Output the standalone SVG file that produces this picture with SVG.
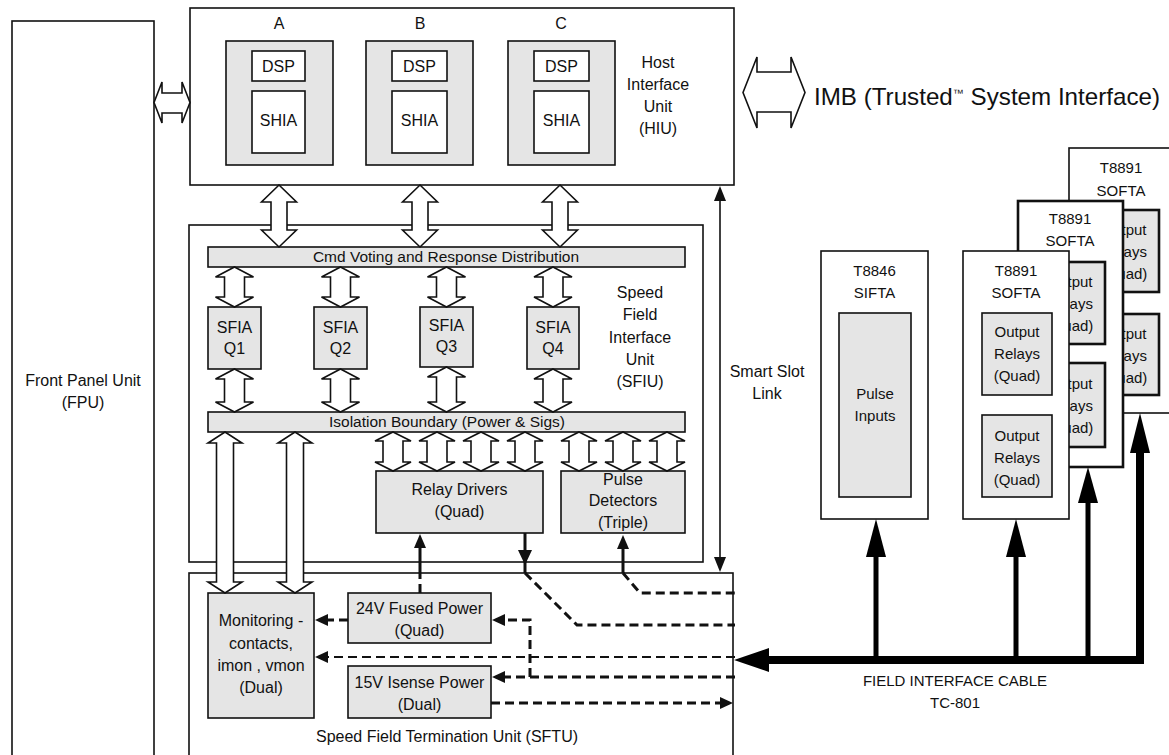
<svg xmlns="http://www.w3.org/2000/svg" width="1169" height="755" viewBox="0 0 1169 755">
<style>
.box{fill:#fff;stroke:#111;stroke-width:1.6}
.gbox{fill:#e5e5e5;stroke:#111;stroke-width:1.6}
.tbox{fill:#e5e5e5;stroke:#111;stroke-width:2.6}
.bbox{fill:#fff;stroke:#111;stroke-width:2.6}
.t{font-family:"Liberation Sans",Arial,sans-serif;font-size:16px;fill:#111;text-anchor:middle;dominant-baseline:central}
.s{font-size:15px}
.arr{fill:#fff;stroke:#111;stroke-width:1.6;stroke-linejoin:miter}
.dash{fill:none;stroke:#111;stroke-width:3;stroke-dasharray:9 5}
.thin{stroke-width:2}
.solid{fill:none;stroke:#111;stroke-width:3}
.cable{fill:none;stroke:#000;stroke-linejoin:miter}
.head{fill:#111;stroke:none}
</style>
<rect width="1169" height="755" fill="#fff"/>

<g id="fpu">
<rect class="box" x="12" y="21" width="142" height="760"/>
<text class="t" x="83" y="380">Front Panel Unit</text>
<text class="t" x="83" y="402">(FPU)</text>
</g>

<g id="hiu">
<rect class="box" x="190" y="8" width="544" height="177"/>
<text class="t" x="279" y="23">A</text>
<text class="t" x="420" y="23">B</text>
<text class="t" x="561" y="23">C</text>
<text class="t" x="658" y="62">Host</text>
<text class="t" x="658" y="84">Interface</text>
<text class="t" x="658" y="106">Unit</text>
<text class="t" x="658" y="128">(HIU)</text>
</g>
<g id="chanA">
<rect class="gbox" x="226" y="41" width="107" height="124"/>
<rect class="box" x="252" y="51" width="53" height="30"/>
<rect class="box" x="252" y="91" width="53" height="62"/>
<text class="t" x="278.5" y="66">DSP</text>
<text class="t" x="278.5" y="120">SHIA</text>
</g>
<g id="chanB">
<rect class="gbox" x="366" y="41" width="107" height="124"/>
<rect class="box" x="392" y="51" width="55" height="30"/>
<rect class="box" x="392" y="91" width="55" height="62"/>
<text class="t" x="419.5" y="66">DSP</text>
<text class="t" x="419.5" y="120">SHIA</text>
</g>
<g id="chanC">
<rect class="gbox" x="508" y="41" width="107" height="124"/>
<rect class="box" x="534" y="51" width="55" height="30"/>
<rect class="box" x="534" y="91" width="55" height="62"/>
<text class="t" x="561.5" y="66">DSP</text>
<text class="t" x="561.5" y="120">SHIA</text>
</g>

<g id="imb">
<text class="t" x="814" y="105" style="font-size:24px;text-anchor:start;dominant-baseline:auto" textLength="346" lengthAdjust="spacingAndGlyphs">IMB (Trusted<tspan style="font-size:11px" dy="-8">™</tspan><tspan dy="8"> System Interface)</tspan></text>
</g>

<g id="sfiu">
<rect class="box" x="189" y="225" width="514" height="337"/>
<text class="t" x="640" y="292">Speed</text>
<text class="t" x="640" y="314">Field</text>
<text class="t" x="640" y="337">Interface</text>
<text class="t" x="640" y="359">Unit</text>
<text class="t" x="640" y="381">(SFIU)</text>
</g>
<g id="cmdbar">
<rect class="gbox" x="208" y="247" width="477" height="20"/>
<text class="t" x="446" y="256" style="font-size:15.5px">Cmd Voting and Response Distribution</text>
</g>
<g id="isobar">
<rect class="gbox" x="208" y="412" width="477" height="20"/>
<text class="t" x="447" y="421" style="font-size:15.5px">Isolation Boundary (Power &amp; Sigs)</text>
</g>
<g id="sfiaQ1">
<rect class="gbox" x="208" y="307" width="53" height="62"/>
<text class="t" x="234.5" y="327">SFIA</text>
<text class="t" x="234.5" y="348">Q1</text>
</g>
<g id="sfiaQ2">
<rect class="gbox" x="314" y="307" width="53" height="62"/>
<text class="t" x="340.5" y="327">SFIA</text>
<text class="t" x="340.5" y="348">Q2</text>
</g>
<g id="sfiaQ3">
<rect class="gbox" x="420" y="307" width="53" height="60"/>
<text class="t" x="446.5" y="325">SFIA</text>
<text class="t" x="446.5" y="346">Q3</text>
</g>
<g id="sfiaQ4">
<rect class="gbox" x="527" y="307" width="52" height="62"/>
<text class="t" x="553" y="327">SFIA</text>
<text class="t" x="553" y="348">Q4</text>
</g>
<g id="relay">
<rect class="gbox" x="376" y="471" width="167" height="62"/>
<text class="t" x="459.5" y="489">Relay Drivers</text>
<text class="t" x="459.5" y="511">(Quad)</text>
</g>
<g id="pulse">
<rect class="gbox" x="561" y="471" width="124" height="62"/>
<text class="t" x="623" y="479">Pulse</text>
<text class="t" x="623" y="500">Detectors</text>
<text class="t" x="623" y="522">(Triple)</text>
</g>

<g id="smartslot">
<text class="t" x="767" y="371">Smart Slot</text>
<text class="t" x="767" y="393">Link</text>
</g>

<g id="sftu">
<rect class="box" x="189" y="573" width="544" height="200"/>
<text class="t" x="447" y="736">Speed Field Termination Unit (SFTU)</text>
</g>
<g id="monitor">
<rect class="gbox" x="208" y="593" width="106" height="125"/>
<text class="t" x="261" y="620">Monitoring -</text>
<text class="t" x="261" y="643">contacts,</text>
<text class="t" x="261" y="665">imon , vmon</text>
<text class="t" x="261" y="687">(Dual)</text>
</g>
<g id="p24">
<rect class="gbox" x="348" y="593" width="143" height="50"/>
<text class="t" x="419.5" y="608">24V Fused Power</text>
<text class="t" x="419.5" y="630">(Quad)</text>
</g>
<g id="p15">
<rect class="gbox" x="348" y="666" width="143" height="52"/>
<text class="t" x="419.5" y="682">15V Isense Power</text>
<text class="t" x="419.5" y="704">(Dual)</text>
</g>

<g id="softa3">
<rect class="box" x="1069" y="148" width="106" height="265"/>
<text class="t s" x="1121" y="167">T8891</text>
<text class="t s" x="1121" y="190">SOFTA</text>
<rect class="tbox" x="1089" y="210" width="70" height="82"/>
<text class="t s" x="1124" y="229">Output</text>
<text class="t s" x="1124" y="251">Relays</text>
<text class="t s" x="1124" y="273">(Quad)</text>
<rect class="tbox" x="1089" y="314" width="70" height="81"/>
<text class="t s" x="1124" y="333">Output</text>
<text class="t s" x="1124" y="355">Relays</text>
<text class="t s" x="1124" y="377">(Quad)</text>
</g>
<g id="softa2">
<rect class="bbox" x="1018" y="201" width="105" height="266"/>
<text class="t s" x="1070" y="218">T8891</text>
<text class="t s" x="1070" y="240">SOFTA</text>
<rect class="tbox" x="1035" y="262" width="70" height="82"/>
<text class="t s" x="1070" y="281">Output</text>
<text class="t s" x="1070" y="303">Relays</text>
<text class="t s" x="1070" y="325">(Quad)</text>
<rect class="tbox" x="1035" y="363" width="70" height="84"/>
<text class="t s" x="1070" y="383">Output</text>
<text class="t s" x="1070" y="405">Relays</text>
<text class="t s" x="1070" y="427">(Quad)</text>
</g>
<g id="softa1">
<rect class="box" x="963" y="251" width="106" height="268"/>
<text class="t s" x="1016" y="270">T8891</text>
<text class="t s" x="1016" y="292">SOFTA</text>
<rect class="gbox" x="982" y="313" width="70" height="82"/>
<text class="t s" x="1017" y="331">Output</text>
<text class="t s" x="1017" y="353">Relays</text>
<text class="t s" x="1017" y="375">(Quad)</text>
<rect class="gbox" x="982" y="415" width="70" height="82"/>
<text class="t s" x="1017" y="435">Output</text>
<text class="t s" x="1017" y="457">Relays</text>
<text class="t s" x="1017" y="479">(Quad)</text>
</g>
<g id="sifta">
<rect class="box" x="821" y="251" width="107" height="268"/>
<text class="t s" x="874.5" y="270">T8846</text>
<text class="t s" x="874.5" y="292">SIFTA</text>
<rect class="gbox" x="839" y="313" width="72" height="184"/>
<text class="t s" x="875" y="393">Pulse</text>
<text class="t s" x="875" y="415">Inputs</text>
</g>

<g id="cablelabel">
<text class="t s" x="955" y="680">FIELD INTERFACE CABLE</text>
<text class="t s" x="955" y="702">TC-801</text>
</g>

<g id="connectors">
<polygon class="arr" points="154,102.5 162,82 162,93 182,93 182,82 190,102.5 182,123 182,113 162,113 162,123"/>
<polygon class="arr" points="743,92.5 757,57 757,72 791,72 791,57 805,92.5 791,128 791,112 757,112 757,128"/>

<polygon class="arr" points="279,185 296.5,202 287,202 287,230 296.5,230 279,247 261.5,230 271,230 271,202 261.5,202"/>
<polygon class="arr" points="420,185 437.5,202 428,202 428,230 437.5,230 420,247 402.5,230 412,230 412,202 402.5,202"/>
<polygon class="arr" points="560,185 577.5,202 568,202 568,230 577.5,230 560,247 542.5,230 552,230 552,202 542.5,202"/>

<polygon class="arr" points="234.5,267 253.5,277 244.5,277 244.5,297 253.5,297 234.5,307 215.5,297 224.5,297 224.5,277 215.5,277"/>
<polygon class="arr" points="340.5,267 359.5,277 350.5,277 350.5,297 359.5,297 340.5,307 321.5,297 330.5,297 330.5,277 321.5,277"/>
<polygon class="arr" points="446.5,267 465.5,277 456.5,277 456.5,297 465.5,297 446.5,307 427.5,297 436.5,297 436.5,277 427.5,277"/>
<polygon class="arr" points="553,267 572,277 563,277 563,297 572,297 553,307 534,297 543,297 543,277 534,277"/>

<polygon class="arr" points="234.5,369 253.5,379 244.5,379 244.5,402 253.5,402 234.5,412 215.5,402 224.5,402 224.5,379 215.5,379"/>
<polygon class="arr" points="340.5,369 359.5,379 350.5,379 350.5,402 359.5,402 340.5,412 321.5,402 330.5,402 330.5,379 321.5,379"/>
<polygon class="arr" points="446.5,367 465.5,377 456.5,377 456.5,402 465.5,402 446.5,412 427.5,402 436.5,402 436.5,377 427.5,377"/>
<polygon class="arr" points="553,369 572,379 563,379 563,402 572,402 553,412 534,402 543,402 543,379 534,379"/>

<polygon class="arr" points="393,432 411,441 403,441 403,462 411,462 393,471 375,462 383,462 383,441 375,441"/>
<polygon class="arr" points="437,432 455,441 447,441 447,462 455,462 437,471 419,462 427,462 427,441 419,441"/>
<polygon class="arr" points="481,432 499,441 491,441 491,462 499,462 481,471 463,462 471,462 471,441 463,441"/>
<polygon class="arr" points="525,432 543,441 535,441 535,462 543,462 525,471 507,462 515,462 515,441 507,441"/>
<polygon class="arr" points="579,432 597,441 589,441 589,462 597,462 579,471 561,462 569,462 569,441 561,441"/>
<polygon class="arr" points="623,432 641,441 633,441 633,462 641,462 623,471 605,462 613,462 613,441 605,441"/>
<polygon class="arr" points="667,432 685,441 677,441 677,462 685,462 667,471 649,462 657,462 657,441 649,441"/>

<polygon class="arr" points="225,432 242,443 233.5,443 233.5,582 242,582 225,593 208,582 216.5,582 216.5,443 208,443"/>
<polygon class="arr" points="295,432 312,443 303.5,443 303.5,582 312,582 295,593 278,582 286.5,582 286.5,443 278,443"/>

<line x1="720" y1="198" x2="720" y2="560" stroke="#111" stroke-width="1.6"/>
<polygon class="head" points="720,186 714,201 726,201"/>
<polygon class="head" points="720,572 714,557 726,557"/>

<line class="solid" x1="623" y1="547" x2="623" y2="573"/>
<polygon class="head" points="623,535 617,549 629,549"/>
<path class="dash" d="M623,573 L640,593 L735,593"/>

<line class="solid" x1="525" y1="533" x2="525" y2="573"/>
<polygon class="head" points="518,550 532,550 525,565"/>
<path class="dash" d="M525,573 L577,625 L735,625"/>

<polygon class="head" points="420,534 414,548 426,548"/>
<line class="solid" x1="420" y1="547" x2="420" y2="575"/>
<path class="dash" d="M420,593 L420,575"/>

<path class="dash" d="M348,620 L327,620"/>
<polygon class="head" points="315,620 328,614 328,626"/>

<path class="dash" d="M530,677 L530,620 L504,620"/>
<polygon class="head" points="492,620 505,614 505,626"/>

<path class="dash" d="M735,677 L504,677"/>
<polygon class="head" points="492,677 505,671 505,683"/>

<path class="dash thin" d="M735,657 L327,657"/>
<polygon class="head" points="315,657 328,651 328,663"/>

<path class="dash" d="M491,703 L721,703"/>
<polygon class="head" points="733,703 720,697 720,709"/>

<polygon class="head" points="734,660 769,648 769,672" style="fill:#000"/>
<path class="cable" d="M766,660 L1140,660 L1140,450" stroke-width="8"/>
<line class="cable" x1="876" y1="664" x2="876" y2="552" stroke-width="5"/>
<line class="cable" x1="1016" y1="664" x2="1016" y2="552" stroke-width="5"/>
<line class="cable" x1="1088" y1="664" x2="1088" y2="500" stroke-width="5"/>
<polygon class="head" points="876,519 866,557 886,557" style="fill:#000"/>
<polygon class="head" points="1016,519 1006,557 1026,557" style="fill:#000"/>
<polygon class="head" points="1088,467 1078,503 1098,503" style="fill:#000"/>
<polygon class="head" points="1140,413 1130,453 1150,453" style="fill:#000"/>
</g>
</svg>
